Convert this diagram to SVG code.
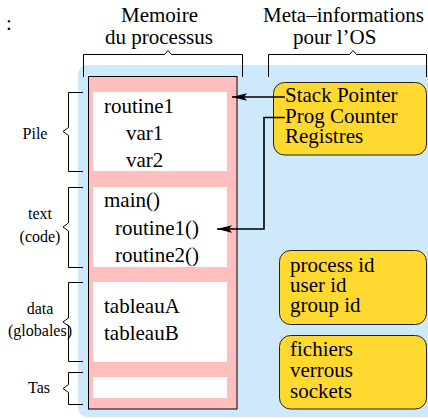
<svg xmlns="http://www.w3.org/2000/svg" width="428" height="419" viewBox="0 0 428 419">
<style>
.t{font-family:"Liberation Serif","Times New Roman",serif;font-size:21px;fill:#000}
.s{font-family:"Liberation Serif","Times New Roman",serif;font-size:16px;fill:#000;text-anchor:middle}
.br{fill:none;stroke:#000;stroke-width:1}
.wb{fill:#fff}
.yb{fill:#FFD930;stroke:#222;stroke-width:1}
.cn{fill:none;stroke:#000;stroke-width:1.6}
</style>
<defs>
<marker id="ah" markerUnits="userSpaceOnUse" markerWidth="18" markerHeight="10" refX="16" refY="4" orient="auto">
<path d="M16,4 L1,0.3 L4,4 L1,7.7 Z" fill="#000"/>
</marker>
</defs>
<text class="t" x="6" y="30">:</text>
<g id="bg"><rect x="78" y="65" width="370" height="352" rx="9" fill="#CEE9FC"/></g>
<g id="memoire">
<rect x="88.5" y="76.5" width="148.5" height="332.5" fill="#FFBFBF" stroke="#000" stroke-width="1"/>
<rect class="wb" x="93" y="92" width="134" height="79"/>
<rect class="wb" x="93" y="187" width="134" height="80"/>
<rect class="wb" x="93" y="282" width="134" height="80"/>
<rect class="wb" x="93" y="377" width="134" height="21"/>
</g>
<g id="pile"><text class="t" x="104" y="113">routine1</text><text class="t" x="126" y="140">var1</text><text class="t" x="126" y="166.5">var2</text></g>
<g id="code"><text class="t" x="104" y="207">main()</text><text class="t" x="115" y="235">routine1()</text><text class="t" x="115" y="262">routine2()</text></g>
<g id="data"><text class="t" x="104" y="313">tableauA</text><text class="t" x="104" y="340">tableauB</text></g>
<g id="titles">
<text class="t" x="121" y="22">Memoire</text>
<text class="t" x="105" y="44">du processus</text>
<text class="t" x="263" y="22">Meta–informations</text>
<text class="t" x="293" y="44">pour l’OS</text>
</g>
<g id="braces">
<path class="br" d="M83.5,77 V54.5 H164.5 L168,50.5 L171.5,54.5 H242.5 V77"/>
<path class="br" d="M268.5,77 V54.5 H349.5 L353,50.5 L356.5,54.5 H426.5 V77"/>
<path class="br" d="M83,92.5 H68.5 V127.5 L63,131.5 L68.5,135.5 V171.5 H83"/>
<path class="br" d="M83,187.5 H68.5 V223 L63,227 L68.5,231 V267.5 H83"/>
<path class="br" d="M83,282.5 H68.5 V318 L63,322 L68.5,326 V361.5 H83"/>
<path class="br" d="M83,372.5 H68.5 V384.5 L63,388.5 L68.5,392.5 V404.5 H83"/>
</g>
<g id="labels">
<text class="s" x="35" y="139">Pile</text>
<text class="s" x="40" y="219">text</text>
<text class="s" x="40" y="242">(code)</text>
<text class="s" x="40" y="314">data</text>
<text class="s" x="40" y="336">(globales)</text>
<text class="s" x="39" y="393">Tas</text>
</g>
<g id="regs"><rect class="yb" x="273.5" y="82.5" width="153" height="72.5" rx="11"/>
<text class="t" x="285" y="102">Stack Pointer</text><text class="t" x="285" y="123">Prog Counter</text><text class="t" x="285" y="143">Registres</text></g>
<g id="ids"><rect class="yb" x="279.5" y="250.5" width="147" height="74" rx="11"/>
<text class="t" x="290" y="272">process id</text><text class="t" x="290" y="292">user id</text><text class="t" x="290" y="312">group id</text></g>
<g id="files"><rect class="yb" x="279.5" y="335.5" width="147" height="73.5" rx="11"/>
<text class="t" x="290" y="356">fichiers</text><text class="t" x="290" y="377">verrous</text><text class="t" x="290" y="398">sockets</text></g>
<g id="connectors">
<path class="cn" d="M285,97 H232" marker-end="url(#ah)"/>
<path class="cn" d="M285,117.5 H264 V229 H217" marker-end="url(#ah)"/>
</g>
</svg>
